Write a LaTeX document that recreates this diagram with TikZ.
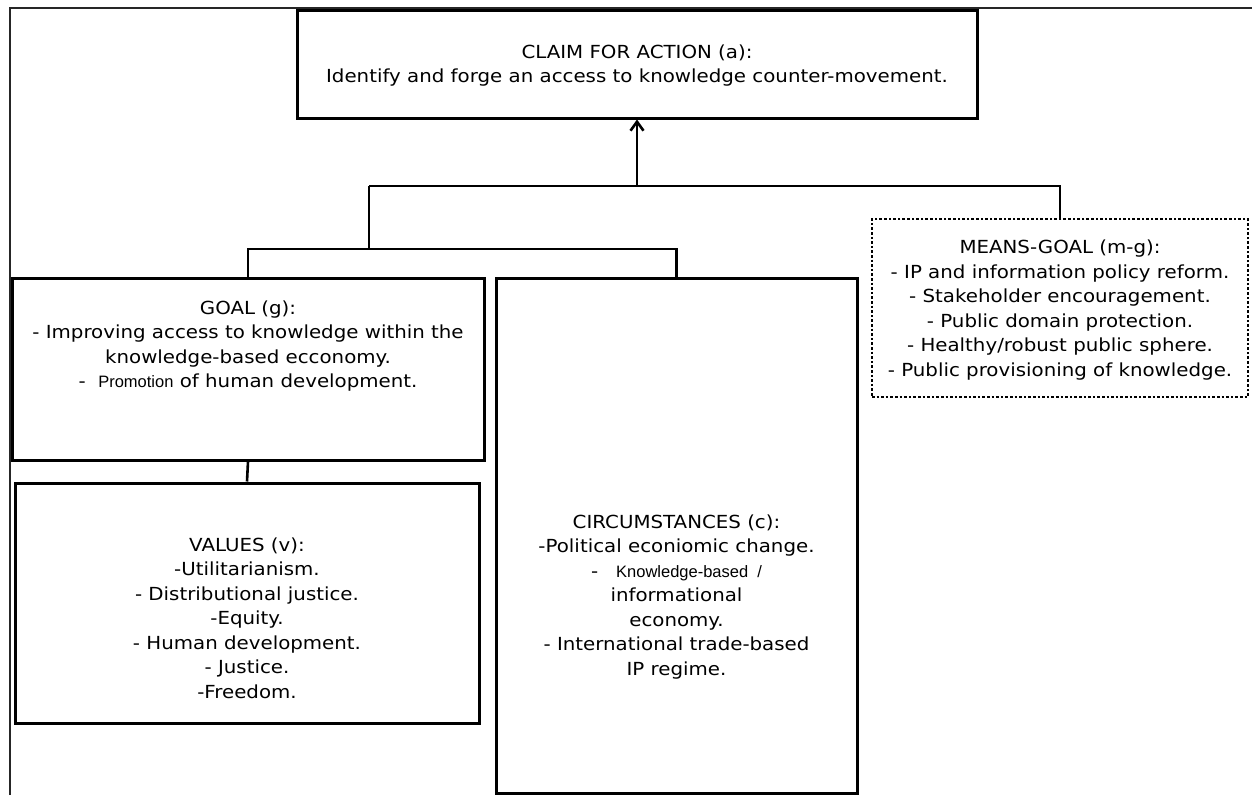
\documentclass[tikz,border=0pt]{standalone}
\usepackage{fontspec}
\setmainfont{DejaVu Sans}[FakeStretch=1.1]
\newfontfamily\arialfont{Liberation Sans}
\usetikzlibrary{arrows.meta, positioning}
\tikzset{
  frame/.style    = {draw=black!85, line width=1.3pt},
  box/.style      = {rectangle, draw=black, line width=3pt, inner sep=0pt},
  meansbox/.style = {rectangle, draw=black, line width=2.6pt, dotted, inner sep=0pt},
  txt/.style      = {align=center, inner sep=0pt, font=\fontsize{18}{24.5}\selectfont},
  link/.style     = {draw=black, line width=2.6pt},
  arr/.style      = {-{Straight Barb[length=9pt,width=13pt,line width=2.6pt]}, line width=2.6pt}
}
\newcommand{\arialbit}[1]{{\arialfont\fontsize{16.5}{24.5}\selectfont #1}}

\begin{document}
\begin{tikzpicture}[x=1pt, y=-1pt]
  \useasboundingbox (0,0) rectangle (1252,795);
  % outer frame, cut off by the page
  \draw[frame] (10,795) -- (10,8) -- (1252,8);

  \node[box, minimum width=680pt, minimum height=108pt] (claim)  at (637,64) {};
  \node[box, minimum width=472pt, minimum height=182pt] (goal)   at (248,369) {};
  \node[box, minimum width=464pt, minimum height=240pt] (values) at (247,603) {};
  \node[box, minimum width=361pt, minimum height=515pt] (circ)   at (676.5,535.5) {};
  \node[meansbox, minimum width=376pt, minimum height=178pt] (means) at (1060,308) {};

  \node[txt, below=36pt of claim.north] (claimtxt)
    {CLAIM FOR ACTION (a):\\Identify and forge an access to knowledge counter-movement.};
  \node[txt, below=24pt of goal.north] (goaltxt)
    {GOAL (g):\\- Improving access to knowledge within the\\knowledge-based ecconomy.\\
     -\ \ \arialbit{Promotion} of human development.};
  \node[txt, below=56pt of values.north] (valuestxt)
    {VALUES (v):\\-Utilitarianism.\\- Distributional justice.\\-Equity.\\
     - Human development.\\- Justice.\\-Freedom.};
  \node[txt, below=238pt of circ.north] (circtxt)
    {CIRCUMSTANCES (c):\\-Political econiomic change.\\-\quad\arialbit{Knowledge-based\ \ /}\\
     informational\\economy.\\- International trade-based\\IP regime.};
  \node[txt, below=22pt of means.north] (meanstxt)
    {MEANS-GOAL (m-g):\\- IP and information policy reform.\\- Stakeholder encouragement.\\
     - Public domain protection.\\- Healthy/robust public sphere.\\- Public provisioning of knowledge.};

  % tree of links up to the claim
  \coordinate (hub) at (369,186);
  \coordinate (fork) at (369,249);
  \draw[arr] (claim.south |- hub) -- (claim.south);
  \draw[link] (hub) -- (means.north |- hub) -- (means.north);
  \draw[link] (hub) -- (fork);
  \draw[link] (goal.north) |- (fork) -| (circ.north);
  \draw[link] (goal.south) -- (values.north);
\end{tikzpicture}
\end{document}
